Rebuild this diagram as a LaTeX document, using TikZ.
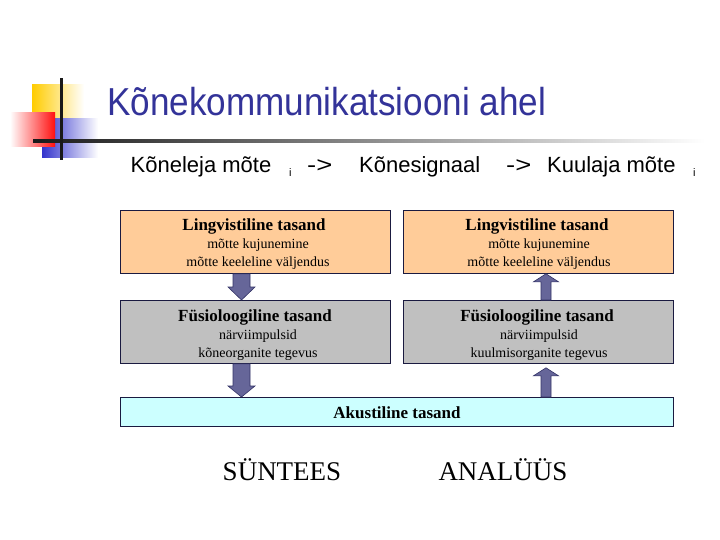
\documentclass[tikz,border=0pt]{standalone}
\usepackage{fontspec}
\setmainfont{Liberation Serif}
\setsansfont{Liberation Sans}
\usetikzlibrary{calc}
\definecolor{titleblue}{HTML}{333399}
\definecolor{boxline}{HTML}{1A1A40}
\definecolor{orangebox}{HTML}{FFCC99}
\definecolor{graybox}{HTML}{C0C0C0}
\definecolor{cyanbox}{HTML}{CCFFFF}
\definecolor{arrowfill}{HTML}{666699}
\definecolor{arrowline}{HTML}{333366}
\definecolor{logoyellow}{HTML}{FFCC00}
\definecolor{logored}{HTML}{FF1010}
\definecolor{logoblue}{HTML}{3333CC}
\begin{document}
\begin{tikzpicture}[x=1pt,y=-1pt,
  box/.style={draw=boxline, line width=0.8pt, inner sep=0pt, anchor=north west},
  txt/.style={anchor=base, inner sep=0pt},
  head/.style={txt, font=\bfseries\fontsize{17}{20}\selectfont},
  sub/.style={txt, font=\fontsize{14}{16}\selectfont},
  blockarrow/.style={fill=arrowfill, draw=arrowline, line width=0.6pt, line join=miter}]
\useasboundingbox (0,0) rectangle (720,540);
% logo
\shade[left color=logoyellow, right color=white] (32,85) rectangle (84,119);
\shade[left color=logoblue, right color=white] (42,119) rectangle (98,158);
\shade[left color=white, right color=logored] (10,113) rectangle (55,147);
\shade[left color=black!90, right color=white] (33,140) rectangle (705,143);
\fill[black!90] (59.8,78) rectangle (62.5,160);
% title
\node[txt, anchor=base west, text=titleblue] (title) at (107,116)
  {\scalebox{0.9}[1]{\sffamily\fontsize{39}{44}\selectfont Kõnekommunikatsiooni ahel}};
% subtitle
\begin{scope}[every node/.style={txt, anchor=base west, font=\sffamily\fontsize{22}{26}\selectfont}]
\node (s1) at (130.5,173) {Kõneleja mõte};
\node[font=\sffamily\fontsize{11}{13}\selectfont] (s2) at (289,177) {i};
\node (s3) at (307,173) {\scalebox{1.25}[1]{->}};
\node (s4) at (359,173) {Kõnesignaal};
\node (s5) at (506,173) {\scalebox{1.25}[1]{->}};
\node (s6) at (547,173) {Kuulaja mõte};
\node[font=\sffamily\fontsize{11}{13}\selectfont] (s7) at (693,177) {i};
\end{scope}
% boxes
\node[box, fill=orangebox, minimum width=270pt, minimum height=63pt] (lo) at (120,210) {};
\node[box, fill=graybox, minimum width=270pt, minimum height=63pt] (lg) at (120,300) {};
\node[box, fill=orangebox, minimum width=270pt, minimum height=63pt] (ro) at (403,210) {};
\node[box, fill=graybox, minimum width=270pt, minimum height=63pt] (rg) at (403,300) {};
\node[box, fill=cyanbox, minimum width=553pt, minimum height=29pt] (ac) at (120,397) {};
% box texts
\node[head] (lo1) at (254,230) {Lingvistiline tasand};
\node[sub] (lo2) at (258,248) {mõtte kujunemine};
\node[sub] (lo3) at (258,266) {mõtte keeleline väljendus};
\node[head] (lg1) at (255,321) {Füsioloogiline tasand};
\node[sub] (lg2) at (258,339) {närviimpulsid};
\node[sub] (lg3) at (258,357) {kõneorganite tegevus};
\node[head] (ro1) at (537,230) {Lingvistiline tasand};
\node[sub] (ro2) at (539,248) {mõtte kujunemine};
\node[sub] (ro3) at (539,266) {mõtte keeleline väljendus};
\node[head] (rg1) at (537,321) {Füsioloogiline tasand};
\node[sub] (rg2) at (539,339) {närviimpulsid};
\node[sub] (rg3) at (539,357) {kuulmisorganite tegevus};
\node[head] (ac1) at (397,418) {Akustiline tasand};
% bottom labels
\node[txt, font=\fontsize{27}{30}\selectfont] (syn) at (282,480) {SÜNTEES};
\node[txt, font=\fontsize{27}{30}\selectfont] (ana) at (503,480) {ANALÜÜS};
% arrows
\coordinate (axl) at (241.5,0);
\coordinate (axr) at (546,0);
\draw[blockarrow] let \p1=(axl |- lo.south), \p2=(axl |- lg.north) in
  ({\x1-8.5pt},\y1) -- ({\x1+8.5pt},\y1) -- ({\x1+8.5pt},{\y2+13pt}) -- ({\x1+13.5pt},{\y2+13pt})
  -- (\x1,\y2) -- ({\x1-13.5pt},{\y2+13pt}) -- ({\x1-8.5pt},{\y2+13pt}) -- cycle;
\draw[blockarrow] let \p1=(axl |- lg.south), \p2=(axl |- ac.north) in
  ({\x1-8.5pt},\y1) -- ({\x1+8.5pt},\y1) -- ({\x1+8.5pt},{\y2+11pt}) -- ({\x1+13.5pt},{\y2+11pt})
  -- (\x1,\y2) -- ({\x1-13.5pt},{\y2+11pt}) -- ({\x1-8.5pt},{\y2+11pt}) -- cycle;
\draw[blockarrow] let \p1=(axr |- ro.south), \p2=(axr |- rg.north) in
  ({\x1-5pt},\y2) -- ({\x1+5pt},\y2) -- ({\x1+5pt},{\y1-8pt}) -- ({\x1+12.5pt},{\y1-8pt})
  -- (\x1,\y1) -- ({\x1-12.5pt},{\y1-8pt}) -- ({\x1-5pt},{\y1-8pt}) -- cycle;
\draw[blockarrow] let \p1=(axr |- rg.south), \p2=(axr |- ac.north) in
  ({\x1-5pt},{\y2}) -- ({\x1+5pt},\y2) -- ({\x1+5pt},{\y1-12pt}) -- ({\x1+12.5pt},{\y1-12pt})
  -- ({\x1},{\y1-4pt}) -- ({\x1-12.5pt},{\y1-12pt}) -- ({\x1-5pt},{\y1-12pt}) -- cycle;
\end{tikzpicture}
\end{document}
